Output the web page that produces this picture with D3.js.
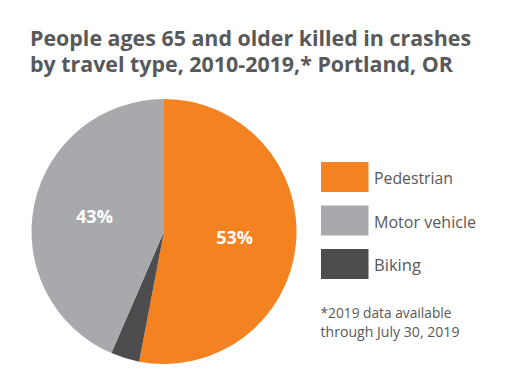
<!DOCTYPE html>
<html><head><meta charset="utf-8">
<script src="https://cdn.jsdelivr.net/npm/d3@7"></script>
<style>body{margin:0;background:#fff;} svg{display:block;}</style>
</head><body>
<script>
const categories = ["Pedestrian", "Biking", "Motor vehicle"];
const values = [53, 3.5, 43.5];
const sliceLabels = ["53%", "", "43%"];
const colors = ["#f58220", "#4d4d4f", "#a7a9ac"];
const legendOrder = ["Pedestrian", "Motor vehicle", "Biking"];
const titleLines = ["People ages 65 and older killed in crashes", "by travel type, 2010-2019,* Portland, OR"];
const noteLines = ["*2019 data available", "through July 30, 2019"];

const W = 510, H = 382;
const svg = d3.select("body").append("svg").attr("width", W).attr("height", H);

svg.selectAll("text.title").data(titleLines).join("text")
  .attr("class", "title")
  .attr("x", 30).attr("y", (d, i) => 46 + i * 26)
  .attr("font-family", "Open Sans").attr("font-weight", 700)
  .attr("font-size", 21.4).attr("fill", "#58595b")
  .text(d => d);

const color = d3.scaleOrdinal().domain(categories).range(colors);
const data = categories.map((c, i) => ({ cat: c, value: values[i], label: sliceLabels[i] }));
const pie = d3.pie().value(d => d.value).sort(null);
const R = 132.5;
const arc = d3.arc().innerRadius(0).outerRadius(R);
const g = svg.append("g").attr("transform", "translate(164,231.5)");
const arcs = pie(data);
g.selectAll("path").data(arcs).join("path")
  .attr("d", arc).attr("fill", d => color(d.data.cat));

const labelArc = d3.arc().innerRadius(0).outerRadius(142);
g.selectAll("text").data(arcs.filter(d => d.data.label)).join("text")
  .attr("transform", d => {
    const [x, y] = labelArc.centroid(d);
    return `translate(${x},${y})`;
  })
  .attr("text-anchor", "middle").attr("dy", "0.35em")
  .attr("font-family", "Open Sans").attr("font-weight", 700)
  .attr("font-size", 18).attr("fill", "#fff")
  .text(d => d.data.label);

const leg = svg.append("g").attr("transform", "translate(321,162)");
const item = leg.selectAll("g").data(legendOrder).join("g")
  .attr("transform", (d, i) => `translate(0,${i * 43.5})`);
item.append("rect").attr("width", 47.5).attr("height", 30)
  .attr("fill", d => color(d));
item.append("text").attr("x", 53).attr("y", 22)
  .attr("font-family", "Open Sans").attr("font-size", 16.5)
  .attr("fill", "#58595b").attr("textLength", d => ({"Pedestrian":79,"Motor vehicle":102,"Biking":47})[d])
  .attr("lengthAdjust", "spacingAndGlyphs")
  .text(d => d);

svg.selectAll("text.note").data(noteLines).join("text")
  .attr("class", "note")
  .attr("x", 320.5).attr("y", (d, i) => 318 + i * 19)
  .attr("font-family", "Open Sans").attr("font-size", 15)
  .attr("fill", "#58595b")
  .attr("textLength", (d, i) => [131, 139][i])
  .attr("lengthAdjust", "spacingAndGlyphs")
  .text(d => d);
</script>
</body></html>
